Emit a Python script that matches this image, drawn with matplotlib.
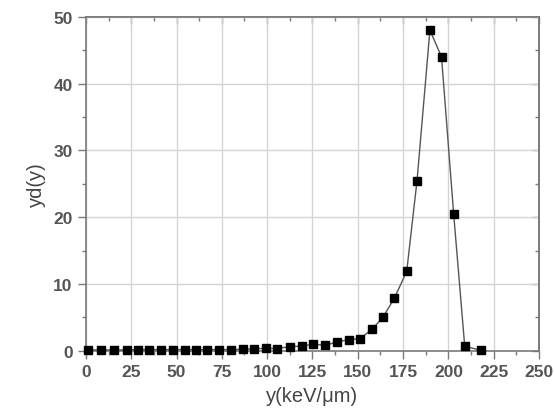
import matplotlib
matplotlib.use("Agg")
import matplotlib.pyplot as plt
from matplotlib.ticker import MultipleLocator, NullFormatter

# lineal energy (keV/um) and yd(y)
energy = [1.1, 8.5, 15.5, 22.5, 28.7, 35, 41.5, 48, 54.5, 61, 67, 73.5, 80,
          86.5, 92.7, 99.5, 105.5, 112.5, 119, 125.5, 132, 138.3, 145, 151.2,
          158, 163.8, 170.2, 177, 182.7, 189.8, 196.2, 202.9, 209, 217.8]
yd = [0.15, 0.15, 0.15, 0.15, 0.2, 0.2, 0.2, 0.2, 0.2, 0.2, 0.2, 0.2, 0.2,
      0.25, 0.3, 0.4, 0.35, 0.65, 0.7, 1.0, 0.85, 1.3, 1.7, 1.8,
      3.3, 5.0, 7.9, 11.9, 25.5, 48.0, 44.0, 20.5, 0.7, 0.1]

plt.rcParams["font.family"] = ["Liberation Sans", "DejaVu Sans"]
frame = "#7a7a7a"
text = "#555555"

fig = plt.figure(figsize=(5.54, 4.14), dpi=100)
ax = fig.add_axes([0.155, 0.150, 0.818, 0.807])

ax.plot(energy, yd, color="#555555", linewidth=1.0, marker="s",
        markersize=5.5, markerfacecolor="black", markeredgecolor="black",
        clip_on=False, zorder=3)

ax.set_xlim(0, 250)
ax.set_ylim(0, 50)
ax.xaxis.set_major_locator(MultipleLocator(25))
ax.xaxis.set_minor_locator(MultipleLocator(12.5))
ax.yaxis.set_major_locator(MultipleLocator(10))
ax.yaxis.set_minor_locator(MultipleLocator(5))

ax.grid(True, which="major", color="#d4d4d4", linewidth=1.0, zorder=0)
ax.set_axisbelow(True)

for s in ax.spines.values():
    s.set_color(frame)
    s.set_linewidth(1.2)

ax.tick_params(which="both", direction="out", color=frame, labelcolor=text,
               labelsize=12.5, width=1.0)
ax.tick_params(which="major", length=6)
ax.tick_params(which="minor", length=3)
for lab in ax.get_xticklabels() + ax.get_yticklabels():
    lab.set_fontweight("bold")

# top and right axes with inward ticks, Origin style
top = ax.secondary_xaxis("top")
right = ax.secondary_yaxis("right")
top.xaxis.set_major_locator(MultipleLocator(25))
top.xaxis.set_minor_locator(MultipleLocator(12.5))
right.yaxis.set_major_locator(MultipleLocator(10))
right.yaxis.set_minor_locator(MultipleLocator(5))
for sec in (top, right):
    sec.tick_params(which="both", direction="in", color=frame, width=1.0,
                    labelsize=0)
    sec.tick_params(which="major", length=5)
    sec.tick_params(which="minor", length=3)
    for s in sec.spines.values():
        s.set_color(frame)
        s.set_linewidth(1.2)
top.xaxis.set_major_formatter(NullFormatter())
right.yaxis.set_major_formatter(NullFormatter())

ax.set_xlabel("y(keV/\u03bcm)", fontsize=14.5, color="#444444", labelpad=5)
ax.set_ylabel("yd(y)", fontsize=14.5, color="#444444", labelpad=5)

fig.savefig("out.png", dpi=100)
